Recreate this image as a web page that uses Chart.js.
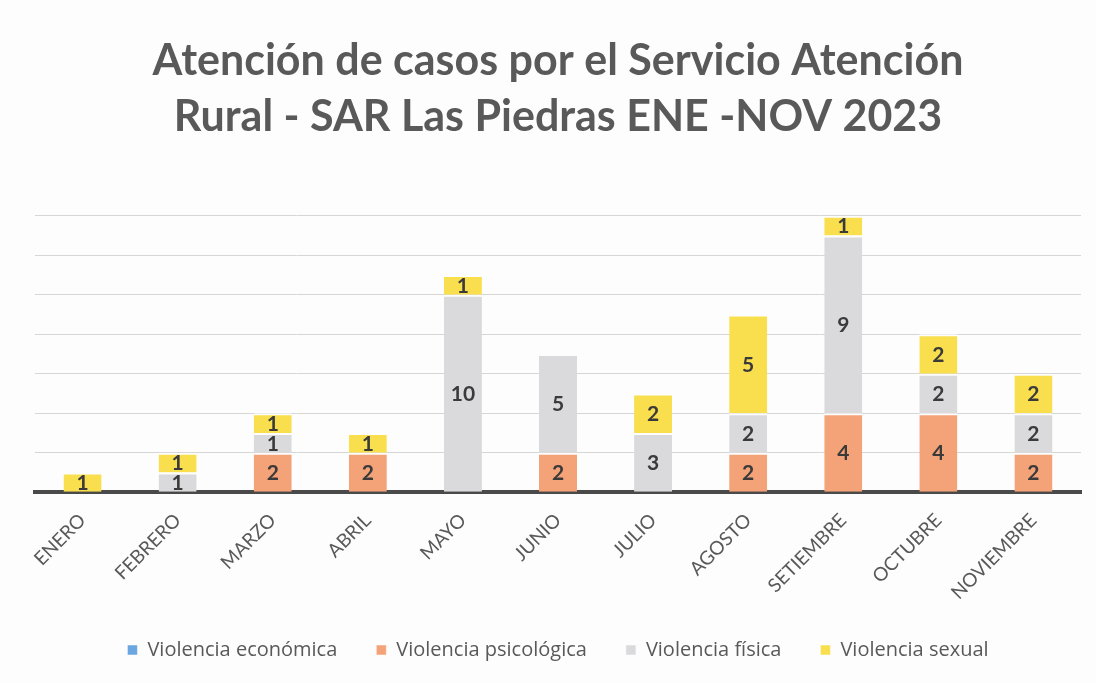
<!DOCTYPE html>
<html>
<head>
<meta charset="utf-8">
<script src="https://cdn.jsdelivr.net/npm/chart.js@4.4.0/dist/chart.umd.min.js"></script>
<style>
  html, body { margin: 0; padding: 0; background: #fdfdfd; }
  #wrap { width: 1096px; height: 683px; position: relative; }
</style>
</head>
<body>
<div id="wrap"><canvas id="chart"></canvas></div>
<script>
const months = ['ENERO', 'FEBRERO', 'MARZO', 'ABRIL', 'MAYO', 'JUNIO', 'JULIO', 'AGOSTO', 'SETIEMBRE', 'OCTUBRE', 'NOVIEMBRE'];
const economica = [null, null, null, null, null, null, null, null, null, null, null];
const psicologica = [null, null, 2, 2, null, 2, null, 2, 4, 4, 2];
const fisica = [null, 1, 1, null, 10, 5, 3, 2, 9, 2, 2];
const sexual = [1, 1, 1, 1, 1, null, 2, 5, 1, 2, 2];

const textGray = '#595959';

// draws the value in the middle of each stacked segment
const segmentLabels = {
  id: 'segmentLabels',
  afterDatasetsDraw(chart) {
    const ctx = chart.ctx;
    ctx.save();
    ctx.font = 'bold 21px Lato, "Open Sans", sans-serif';
    ctx.fillStyle = '#3a3a3a';
    ctx.textAlign = 'center';
    ctx.textBaseline = 'middle';
    chart.data.datasets.forEach((ds, i) => {
      const meta = chart.getDatasetMeta(i);
      meta.data.forEach((bar, j) => {
        const v = ds.data[j];
        if (!v) return;
        ctx.fillText(String(v), bar.x, (bar.y + bar.base) / 2 + 1);
      });
    });
    ctx.restore();
  }
};

new Chart(document.getElementById('chart'), {
  type: 'bar',
  data: {
    labels: months,
    datasets: [
      { label: 'Violencia económica', data: economica, backgroundColor: '#6aa6e0' },
      { label: 'Violencia psicológica', data: psicologica, backgroundColor: '#f4a277' },
      { label: 'Violencia física', data: fisica, backgroundColor: '#dadadc' },
      { label: 'Violencia sexual', data: sexual, backgroundColor: '#f9df4e' },
    ],
  },
  options: {
    responsive: true,
    maintainAspectRatio: false,
    animation: false,
    layout: { padding: { left: 35, right: 15, top: 33, bottom: 13 } },
    datasets: {
      bar: {
        categoryPercentage: 1,
        barPercentage: 0.4,
        borderWidth: { top: 2, bottom: 0, left: 0, right: 0 },
        borderColor: '#fdfdfd',
        borderSkipped: false,
      }
    },
    plugins: {
      title: {
        display: true,
        text: ['Atención de casos por el Servicio Atención', 'Rural - SAR Las Piedras ENE -NOV 2023'],
        color: textGray,
        font: { family: 'Lato, "Open Sans", sans-serif', size: 43, weight: 'bold', lineHeight: 1.3 },
        padding: { top: 0, bottom: 71 },
      },
      legend: {
        position: 'bottom',
        labels: {
          color: textGray,
          font: { family: '"Open Sans", Lato, sans-serif', size: 20 },
          boxWidth: 10,
          boxHeight: 10,
          padding: 39,
        },
      },
      tooltip: { enabled: false },
    },
    scales: {
      x: {
        stacked: true,
        grid: { display: false },
        border: { color: '#4a4a4a', width: 4 },
        ticks: {
          color: textGray,
          font: { family: 'Lato, "Open Sans", sans-serif', size: 19 },
          minRotation: 45,
          maxRotation: 45,
          padding: 9,
        },
        // pull the legend closer to the rotated month names
        afterFit: (scale) => { scale.height -= 12; },
      },
      y: {
        stacked: true,
        min: 0,
        max: 14,
        ticks: { display: false, stepSize: 2 },
        border: { display: false },
        grid: { color: '#d6d6d6', lineWidth: 1, drawTicks: false },
      },
    },
  },
  plugins: [segmentLabels],
});
</script>
</body>
</html>
